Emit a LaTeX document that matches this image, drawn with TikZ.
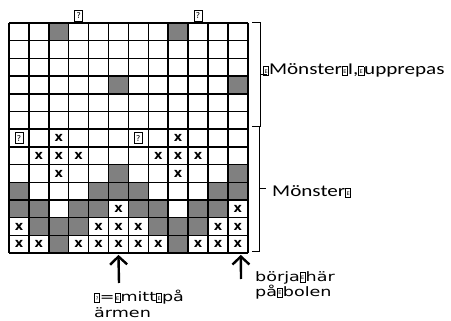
\documentclass[tikz,border=0pt]{standalone}
\usepackage{fontspec}
\setmainfont{Carlito}
\newfontfamily\labelfont[FakeStretch=1.28]{Carlito}
\newfontfamily\footfont[FakeStretch=1.35]{DejaVu Sans}
\newfontfamily\markfont{DejaVu Sans}
\usetikzlibrary{arrows.meta,positioning}
\definecolor{cellgray}{HTML}{808080}
\definecolor{inkblack}{HTML}{000000}
\newcommand{\nochar}[1]{{\setlength{\fboxsep}{0.5pt}\setlength{\fboxrule}{0.6pt}\fbox{\makebox[3.6pt]{\rule{0pt}{7.5pt}\raisebox{1.2pt}{\fontsize{5}{5}\selectfont\markfont #1}}}}}

\begin{document}
\begin{tikzpicture}[
    x=1pt, y=-1pt,
    mark_x/.style={font=\markfont\bfseries\fontsize{13}{13}\selectfont, inner sep=0pt},
    mark_q/.style={font=\markfont\fontsize{8}{8}\selectfont, inner sep=0.5pt, minimum width=8pt, minimum height=11pt, draw=inkblack, line width=0.9pt, fill=white},
    side_label/.style={font=\labelfont\fontsize{16.5}{16.5}\selectfont, inner sep=0pt, anchor=base west},
    foot_label/.style={font=\footfont\fontsize{13}{#1}\selectfont, inner sep=0pt, anchor=north west, align=left},
    brace_line/.style={inkblack, line width=1pt},
    up_arrow/.style={-{Straight Barb[length=8pt,width=17pt]}, inkblack, line width=2.4pt}
]
\useasboundingbox (0,0) rectangle (451,321);

% chart: 12 stitches x 13 rows
\begin{scope}[shift={(9,23)}, x=19.9pt, y=-17.7pt]
  \foreach \c/\r in {3/1,9/1,6/4,12/4,6/9,12/9,
      1/10,5/10,6/10,7/10,11/10,12/10,
      1/11,2/11,4/11,5/11,7/11,8/11,10/11,11/11,
      2/12,3/12,4/12,8/12,9/12,10/12,3/13,9/13}
    \fill[cellgray] (\c-1,\r-1) rectangle (\c,\r);
  \foreach \c in {0,...,12}
    \draw[inkblack, line width=1.5pt] (\c,0) -- (\c,13);
  \foreach \r in {0,...,13}
    \draw[inkblack, line width=1.5pt] (0,\r) -- (12,\r);
  \foreach \c/\r in {3/7,9/7,2/8,3/8,4/8,8/8,9/8,10/8,3/9,9/9,6/11,12/11,
      1/12,5/12,6/12,7/12,11/12,12/12,
      1/13,2/13,4/13,5/13,6/13,7/13,8/13,10/13,11/13,12/13}
    \node[mark_x] (x-\c-\r) at (\c-0.5,\r-0.5) {x};
  \node[mark_q] (q-1-7) at (0.5,6.5) {?};
  \node[mark_q] (q-7-7) at (6.5,6.5) {?};
  \node[mark_q] (qtop-4) at (3.5,-0.4) {?};
  \node[mark_q] (qtop-10) at (9.5,-0.4) {?};
  \coordinate (mid_sleeve) at (5.5,13.1);
  \coordinate (start_body) at (11.65,13.1);
\end{scope}

% braces
\draw[brace_line] (252,23) -- (260,23) -- (260,127) -- (252,127);
\draw[brace_line] (260,75) -- (267,75);
\draw[brace_line] (252,127) -- (259,127) -- (259,252) -- (252,252);
\draw[brace_line] (259,189) -- (266,189);

\node[side_label] (lbl_repeat) at (263,75) {\nochar{E}Mönster\nochar{E}I,\nochar{E}upprepas};
\node[side_label] (lbl_pattern) at (272,197) {Mönster\nochar{E}};

% arrows
\coordinate (foot_mid) at (119,283);
\coordinate (foot_start) at (241,279);
\draw[up_arrow] (foot_mid) -- (mid_sleeve);
\draw[up_arrow] (foot_start) -- (start_body);

\node[foot_label=16] (lbl_mid) at (94,290) {\nochar{?}=\nochar{E}mitt\nochar{E}på\\ärmen};
\node[foot_label=12] (lbl_start) at (255,271) {börja\nochar{E}här\\på\nochar{E}bolen};

\end{tikzpicture}
\end{document}
